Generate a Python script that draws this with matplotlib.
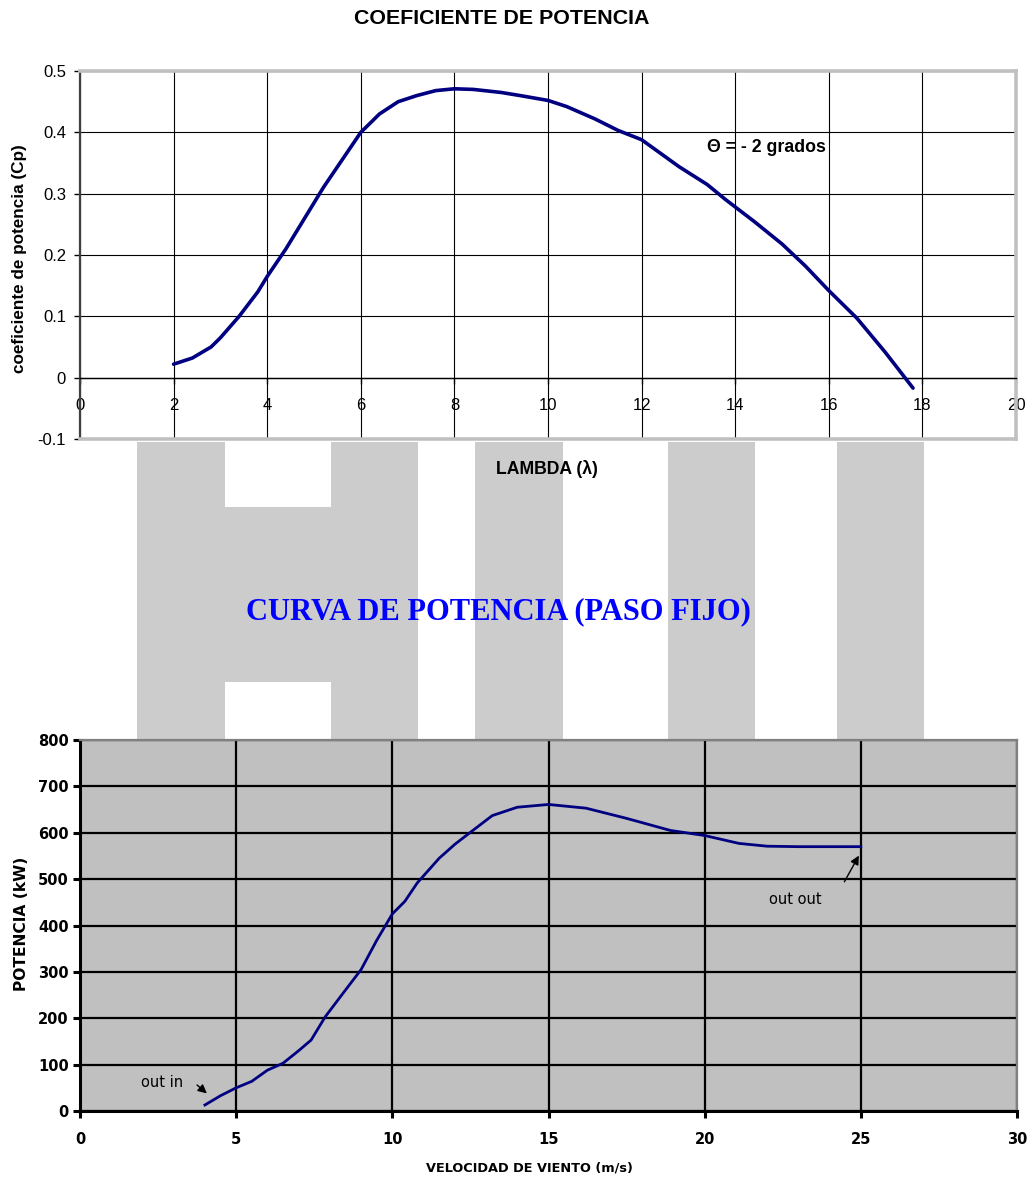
import matplotlib
matplotlib.use("Agg")
import matplotlib.pyplot as plt
from matplotlib.patches import Rectangle

plt.rcParams["font.family"] = ["Liberation Sans", "DejaVu Sans"]

# ---------- data ----------
# power coefficient vs tip speed ratio
lam = [2.0, 2.4, 2.8, 3.0, 3.4, 3.8, 4.0, 4.4, 4.8, 5.0, 5.2, 5.6, 6.0, 6.4,
       6.8, 7.2, 7.6, 8.0, 8.4, 9.0, 9.4, 10.0, 10.4, 11.0, 11.5, 12.0, 12.8,
       13.4, 13.8, 14.4, 15.0, 15.5, 16.0, 16.6, 17.2, 17.8]
cp = [0.022, 0.032, 0.05, 0.065, 0.1, 0.14, 0.165, 0.21, 0.26, 0.285, 0.31,
      0.355, 0.40, 0.43, 0.45, 0.46, 0.468, 0.471, 0.47, 0.465, 0.46, 0.452,
      0.442, 0.422, 0.403, 0.388, 0.344, 0.315, 0.29, 0.255, 0.218, 0.182,
      0.142, 0.097, 0.042, -0.017]

# power curve (fixed pitch)
wind = [4.0, 4.5, 5.0, 5.5, 6.0, 6.5, 7.0, 7.4, 7.85, 8.4, 9.0, 9.5, 10.0,
        10.4, 10.8, 11.5, 12.0, 12.5, 13.2, 14.0, 15.0, 16.2, 17.5, 18.9,
        20.0, 21.1, 22.0, 23.0, 24.0, 25.0]
power = [13, 33, 50, 64, 88, 103, 130, 153, 203, 252, 305, 368, 425, 452,
         492, 545, 575, 601, 637, 655, 661, 653, 631, 605, 594, 577, 571,
         570, 570, 570]

cp_xticks = list(range(0, 21, 2))
cp_yticks = [-0.1, 0, 0.1, 0.2, 0.3, 0.4, 0.5]
cp_yticklabels = ["-0.1", "0", "0.1", "0.2", "0.3", "0.4", "0.5"]
p_xticks = [0, 5, 10, 15, 20, 25, 30]
p_yticks = list(range(0, 801, 100))

W, H = 1032, 1184
fig = plt.figure(figsize=(W / 100, H / 100), dpi=100)
fig.patch.set_facecolor("white")

# background watermark letters (pixel boxes: x0, x1, y0, y1 from top)
wm = [(137, 225, 442, 740), (331, 418, 442, 740), (225, 331, 507, 682),
      (475, 563, 442, 740), (668, 755, 442, 740), (837, 924, 442, 740)]
for x0, x1, y0, y1 in wm:
    fig.patches.append(Rectangle((x0 / W, 1 - y1 / H), (x1 - x0) / W, (y1 - y0) / H,
                                 transform=fig.transFigure, color="#cccccc",
                                 lw=0, zorder=-1))

# ---------- 1. Cp curve ----------
ax1 = fig.add_axes([80 / W, 1 - 439 / H, 936 / W, 368 / H])
ax1.set_facecolor("white")
ax1.plot(lam, cp, color="#000080", lw=2.6, solid_capstyle="round", zorder=3)
ax1.set_xlim(0, 20)
ax1.set_ylim(-0.1, 0.5)
ax1.set_xticks(cp_xticks)
ax1.set_yticks(cp_yticks)
ax1.set_yticklabels(cp_yticklabels)
ax1.grid(True, color="black", lw=0.8)
ax1.set_axisbelow(True)
ax1.spines["bottom"].set_position(("data", 0))
ax1.spines["bottom"].set_color("black")
ax1.spines["bottom"].set_linewidth(1.0)
ax1.spines["left"].set_color("#404040")
ax1.spines["left"].set_linewidth(1.6)
for s in ["top", "right"]:
    ax1.spines[s].set_color("#c0c0c0")
    ax1.spines[s].set_linewidth(2.6)
ax1.axhline(-0.1, color="#c0c0c0", lw=2.6, clip_on=False, zorder=4)
ax1.tick_params(axis="x", direction="out", length=4, width=1, pad=10.5,
                labelsize=12, colors="black")
ax1.tick_params(axis="y", direction="out", length=4, width=1, pad=6,
                labelsize=12)
ax1.text(13.4, 0.375, "\u0398 = - 2 grados", fontsize=12.8, fontweight="bold",
         va="center", ha="left", zorder=5)

fig.text(502 / W, 1 - 18 / H, "COEFICIENTE DE POTENCIA", fontsize=15.4,
         fontweight="bold", ha="center", va="center")
fig.text(547 / W, 1 - 469 / H, "LAMBDA (\u03bb)", fontsize=12.7,
         fontweight="bold", ha="center", va="center")
fig.text(20 / W, 1 - 259 / H, "coeficiente de potencia (Cp)", fontsize=12.3,
         fontweight="bold", rotation=90, ha="center", va="center")

# ---------- 2. Power curve ----------
fig.text(498 / W, 1 - 612 / H, "CURVA DE POTENCIA (PASO FIJO)",
         fontsize=22, fontweight="bold", color="#0000ff",
         family="Liberation Serif", ha="center", va="center")

ax2 = fig.add_axes([80 / W, 1 - 1111 / H, 937 / W, 371 / H])
ax2.set_facecolor("#c0c0c0")
ax2.plot(wind, power, color="#000080", lw=2.0, zorder=3)
ax2.set_xlim(0, 30)
ax2.set_ylim(0, 800)
ax2.set_xticks(p_xticks)
ax2.set_yticks(p_yticks)
ax2.grid(True, color="black", lw=1.6)
ax2.set_axisbelow(True)
for s in ["left", "bottom"]:
    ax2.spines[s].set_color("black")
    ax2.spines[s].set_linewidth(2.2)
for s in ["top", "right"]:
    ax2.spines[s].set_color("#808080")
    ax2.spines[s].set_linewidth(1.6)
ax2.tick_params(axis="x", direction="out", length=5, width=2.2, pad=10)
ax2.tick_params(axis="y", direction="out", length=5, width=2.2, pad=3)
for lab in ax2.get_xticklabels() + ax2.get_yticklabels():
    lab.set_family("DejaVu Sans")
    lab.set_fontweight("bold")
    lab.set_fontsize(10.5)

ax2.text(1.95, 62, "out in", family="DejaVu Sans", fontsize=10.5,
         ha="left", va="center")
ax2.annotate("", xy=(4.13, 34), xytext=(3.68, 60),
             arrowprops=dict(arrowstyle="-|>", color="black", lw=1,
                             mutation_scale=13))
ax2.text(22.05, 457, "out out", family="DejaVu Sans", fontsize=10.5,
         ha="left", va="center")
ax2.annotate("", xy=(24.98, 556), xytext=(24.43, 489),
             arrowprops=dict(arrowstyle="-|>", color="black", lw=1,
                             mutation_scale=13))

fig.text(529 / W, 1 - 1168 / H, "VELOCIDAD DE VIENTO (m/s)", family="DejaVu Sans",
         fontsize=9.3, fontweight="bold", ha="center", va="center")
fig.text(22 / W, 1 - 924 / H, "POTENCIA (kW)", family="DejaVu Sans",
         fontsize=11.2, fontweight="bold", rotation=90, ha="center", va="center")

fig.savefig("out.png", dpi=100)
